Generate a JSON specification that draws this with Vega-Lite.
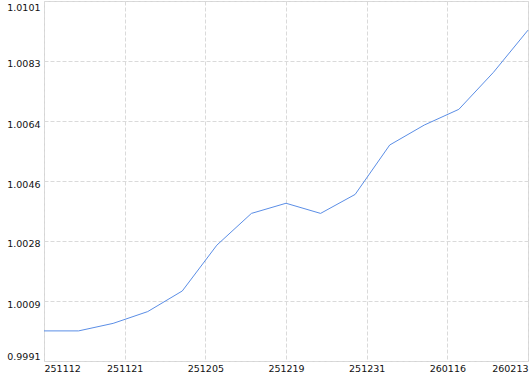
{
  "$schema": "https://vega.github.io/schema/vega-lite/v6.json",
  "width": 484,
  "height": 360,
  "autosize": "none",
  "padding": {"left": 44, "top": 1, "right": 2, "bottom": 13},
  "background": "white",
  "config": {
    "view": {"stroke": "#d4d4d4", "strokeWidth": 1},
    "axis": {
      "labelFont": "DejaVu Sans",
      "labelFontSize": 9.5,
      "labelColor": "#111111",
      "domain": false,
      "ticks": false,
      "gridColor": "#dadada",
      "gridDash": [4, 2],
      "gridWidth": 1,
      "title": null
    }
  },
  "data": {
    "values": [
      {"i": 0, "value": 1.00002},
      {"i": 1, "value": 1.00002},
      {"i": 2, "value": 1.00025},
      {"i": 3, "value": 1.00061},
      {"i": 4, "value": 1.00124},
      {"i": 5, "value": 1.00264},
      {"i": 6, "value": 1.00361},
      {"i": 7, "value": 1.00392},
      {"i": 8, "value": 1.00361},
      {"i": 9, "value": 1.00419},
      {"i": 10, "value": 1.00570},
      {"i": 11, "value": 1.00631},
      {"i": 12, "value": 1.00679},
      {"i": 13, "value": 1.00792},
      {"i": 14, "value": 1.00921}
    ]
  },
  "mark": {"type": "line", "color": "#5b8ee6", "strokeWidth": 1, "interpolate": "linear"},
  "encoding": {
    "x": {
      "field": "i",
      "type": "quantitative",
      "scale": {"domain": [0, 14], "nice": false, "zero": false},
      "axis": {
        "values": [0, 2.333333, 4.666667, 7, 9.333333, 11.666667, 14],
        "labelExpr": "['251112','251121','251205','251219','251231','260116','260213'][round(datum.value*6/14)]",
        "labelFlush": true,
        "labelPadding": 2,
        "labelOverlap": false
      }
    },
    "y": {
      "field": "value",
      "type": "quantitative",
      "scale": {"domain": [0.9991, 1.0101], "nice": false, "zero": false},
      "axis": {
        "values": [0.9991, 1.0009333, 1.0027667, 1.0046, 1.0064333, 1.0082667, 1.0101],
        "format": ".4f",
        "labelFlush": false,
        "labelBaseline": {
          "condition": [
            {"test": "datum.value > 1.01", "value": "top"},
            {"test": "datum.value < 0.9995", "value": "bottom"}
          ],
          "value": "middle"
        },
        "labelOffset": {
          "condition": [
            {"test": "datum.value > 1.01", "value": 1},
            {"test": "datum.value < 0.9995", "value": 0}
          ],
          "value": 3
        },
        "labelPadding": 4,
        "labelOverlap": false
      }
    }
  }
}
